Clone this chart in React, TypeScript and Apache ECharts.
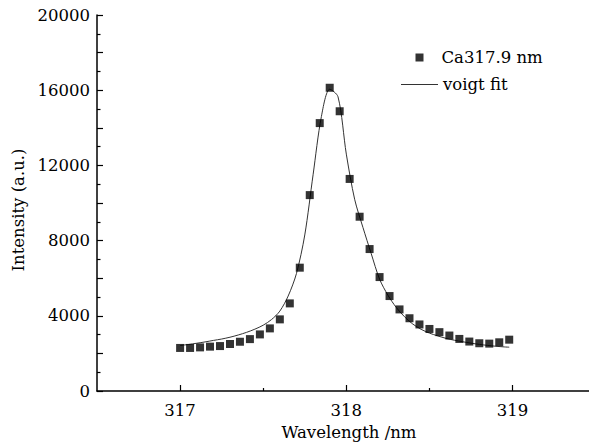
import React, { useEffect, useRef } from "react";
import * as echarts from "echarts";

const pointWavelengths = [
  317.0, 317.06, 317.12, 317.18, 317.24, 317.3, 317.36, 317.42, 317.48, 317.54,
  317.6, 317.66, 317.72, 317.78, 317.84, 317.9, 317.96, 318.02, 318.08, 318.14,
  318.2, 318.26, 318.32, 318.38, 318.44, 318.5, 318.56, 318.62, 318.68, 318.74,
  318.8, 318.86, 318.92, 318.98,
];
const pointIntensity = [
  2290, 2290, 2320, 2360, 2390, 2500, 2620, 2760, 3010, 3330,
  3810, 4660, 6560, 10420, 14250, 16130, 14880, 11280, 9270, 7550,
  6060, 5050, 4340, 3870, 3540, 3300, 3130, 2950, 2770, 2630,
  2540, 2520, 2590, 2730,
];

const fitWavelengths = [
  317.0, 317.05, 317.1, 317.15, 317.2, 317.25, 317.3, 317.35, 317.4, 317.45,
  317.5, 317.55, 317.6, 317.65, 317.7, 317.75, 317.8, 317.85, 317.9, 317.95,
  318.0, 318.05, 318.1, 318.15, 318.2, 318.25, 318.3, 318.35, 318.4, 318.45,
  318.5, 318.55, 318.6, 318.65, 318.7, 318.75, 318.8, 318.85, 318.9, 318.95,
  318.98,
];
const fitIntensity = [
  2420, 2475, 2540, 2610, 2690, 2765, 2860, 2980, 3120, 3290,
  3500, 3800, 4250, 5050, 6250, 8300, 11500, 14600, 16050, 15650,
  12600, 10200, 8700, 7300, 5950, 5100, 4450, 3950, 3560, 3280,
  3080, 2930, 2800, 2700, 2620, 2545, 2480, 2425, 2380, 2345,
  2330,
];

const xMajorTicks = [317, 318, 319];
const xMinorTicks = [317.5, 318.5];
const seriesNames = ["Ca317.9 nm", "voigt fit"];
const xTitle = "Wavelength /nm";
const yTitle = "Intensity (a.u.)";

const FONT = "DejaVu Serif";

export default function App() {
  const ref = useRef<HTMLDivElement>(null);
  useEffect(() => {
    if (!ref.current) return;
    const chart = echarts.init(ref.current, null, { renderer: "svg" });
    const xMin = 316.5;
    const xMax = 319.46;
    const legendText = { fontFamily: FONT, fontSize: 16.5, color: "#000" };
    chart.setOption({
      animation: false,
      backgroundColor: "#fff",
      textStyle: { fontFamily: FONT, color: "#000" },
      grid: { left: 97, right: 0, top: 15, bottom: 55, containLabel: false },
      legend: [
        {
          orient: "vertical",
          left: 415.5,
          top: 49,
          padding: 0,
          itemWidth: 8,
          itemHeight: 8,
          textStyle: { ...legendText, padding: [0, 0, 0, 13] },
          data: [{ name: seriesNames[0], icon: "rect", itemStyle: { color: "#000" } }],
        },
        {
          orient: "vertical",
          left: 401,
          top: 76,
          padding: 0,
          itemWidth: 37,
          itemHeight: 1.2,
          textStyle: legendText,
          data: [{ name: seriesNames[1], icon: "rect", itemStyle: { color: "#333" } }],
        },
      ],
      xAxis: [
        {
          type: "value",
          min: xMin,
          max: xMax,
          name: xTitle,
          nameLocation: "middle",
          nameGap: 27,
          nameTextStyle: { fontFamily: FONT, fontSize: 16.5, color: "#000", padding: [0, 0, 0, 12] },
          axisLine: { show: true, lineStyle: { color: "#000", width: 1.5 } },
          axisTick: { show: true, inside: true, length: 6, customValues: xMajorTicks, lineStyle: { color: "#000", width: 1.2 } },
          axisLabel: { customValues: xMajorTicks, margin: 11, fontFamily: FONT, fontSize: 16.5, color: "#000" },
          splitLine: { show: false },
        },
        {
          type: "value",
          min: xMin,
          max: xMax,
          position: "bottom",
          axisLine: { show: false },
          axisTick: { show: true, inside: true, length: 3, customValues: xMinorTicks, lineStyle: { color: "#000", width: 1.2 } },
          axisLabel: { show: false },
          splitLine: { show: false },
        },
      ],
      yAxis: {
        type: "value",
        min: 0,
        max: 20000,
        interval: 2000,
        name: yTitle,
        nameLocation: "middle",
        nameGap: 67,
        nameTextStyle: { fontFamily: FONT, fontSize: 16.5, color: "#000", padding: [0, 14, 0, 0] },
        axisLine: { show: true, lineStyle: { color: "#000", width: 1.5 } },
        axisTick: { show: true, inside: true, length: 6, lineStyle: { color: "#000", width: 1.2 } },
        minorTick: { show: true, splitNumber: 2, length: 3.5, lineStyle: { color: "#000", width: 1.2 } },
        axisLabel: {
          margin: 7,
          fontFamily: FONT,
          fontSize: 16.5,
          color: "#000",
          formatter: (v: number) => (v % 4000 === 0 ? String(v) : ""),
        },
        splitLine: { show: false },
        minorSplitLine: { show: false },
      },
      series: [
        {
          name: seriesNames[0],
          type: "scatter",
          symbol: "rect",
          symbolSize: 8,
          itemStyle: { color: "#000" },
          data: pointWavelengths.map((w, i) => [w, pointIntensity[i]]),
          z: 3,
        },
        {
          name: seriesNames[1],
          type: "line",
          smooth: 0.3,
          showSymbol: false,
          symbol: "none",
          lineStyle: { color: "#333", width: 1 },
          itemStyle: { color: "#333" },
          data: fitWavelengths.map((w, i) => [w, fitIntensity[i]]),
          z: 2,
        },
      ],
    });
    return () => chart.dispose();
  }, []);
  return (
    <div
      ref={ref}
      style={{ position: "fixed", left: 0, top: 0, width: 589, height: 446, background: "#fff" }}
    />
  );
}
